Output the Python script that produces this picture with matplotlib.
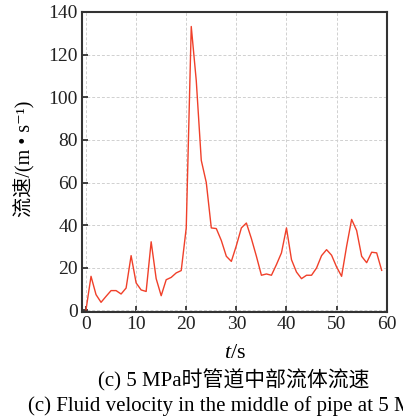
import matplotlib
matplotlib.use("Agg")
import matplotlib.pyplot as plt
import numpy as np

t = list(range(60))
v = [0.3, 16, 7.4, 3.8, 6.6, 9.3, 9.3, 7.7, 10.5, 25.7,
     12.9, 9.6, 8.9, 32.2, 14.9, 6.9, 14.4, 15.5, 17.6, 18.7,
     38.7, 133.2, 107.8, 70.4, 60, 38.7, 38.4, 32.8, 25.4, 23,
     30.4, 38.7, 41, 33.7, 25.4, 16.5, 17.1, 16.5, 21.5, 27,
     38.7, 23.8, 18, 14.9, 16.5, 16.5, 19.9, 25.7, 28.5, 25.9,
     20.4, 16, 30.1, 42.7, 37.5, 25.4, 22.4, 27.3, 27, 18.8]
xticks = [0, 10, 20, 30, 40, 50, 60]
yticks = [0, 20, 40, 60, 80, 100, 120, 140]

plt.rcParams['font.family'] = ['Liberation Serif', 'Noto Sans CJK SC', 'DejaVu Sans']
plt.rcParams['mathtext.fontset'] = 'custom'
plt.rcParams['mathtext.it'] = 'Liberation Serif:italic'
plt.rcParams['mathtext.rm'] = 'Liberation Serif'

fig = plt.figure(figsize=(4.03, 4.16), dpi=100)
ax = fig.add_axes([82/403, 1-311.7/416, (386.7-82)/403, (311.7-12)/416])
ax.plot(t, v, color='#f0402a', lw=1.0)
ax.set_xlim(-0.8, 60)
ax.set_ylim(-0.6, 140)
ax.set_xticks(xticks)
ax.set_yticks(yticks)
ax.tick_params(direction='in', labelsize=14, length=4, width=1.2, pad=3, colors='#222222')
ax.grid(True, color='#d0d0d0', ls=(0, (3, 2)), lw=0.7)
for s in ax.spines.values():
    s.set_linewidth(1.5)
    s.set_color('#333333')

fig.text(235/403, 1-353/416, r'$t$/s', ha='center', va='center', fontsize=16)
fig.text(25/403, 1-159/416, '流速/(m • s⁻¹)', rotation=90, ha='center', va='center', fontsize=14.5,
         family=['Liberation Serif', 'Noto Sans CJK SC', 'DejaVu Sans'])
fig.text(234/403, 1-380/416, '(c) 5 MPa时管道中部流体流速', ha='center', va='center', fontsize=15,
         family=['Liberation Serif', 'Noto Sans CJK SC'])
fig.text(28/403, 1-406/416, '(c) Fluid velocity in the middle of pipe at 5 MPa', ha='left', va='center', fontsize=15)

fig.savefig('out.png', dpi=100)
